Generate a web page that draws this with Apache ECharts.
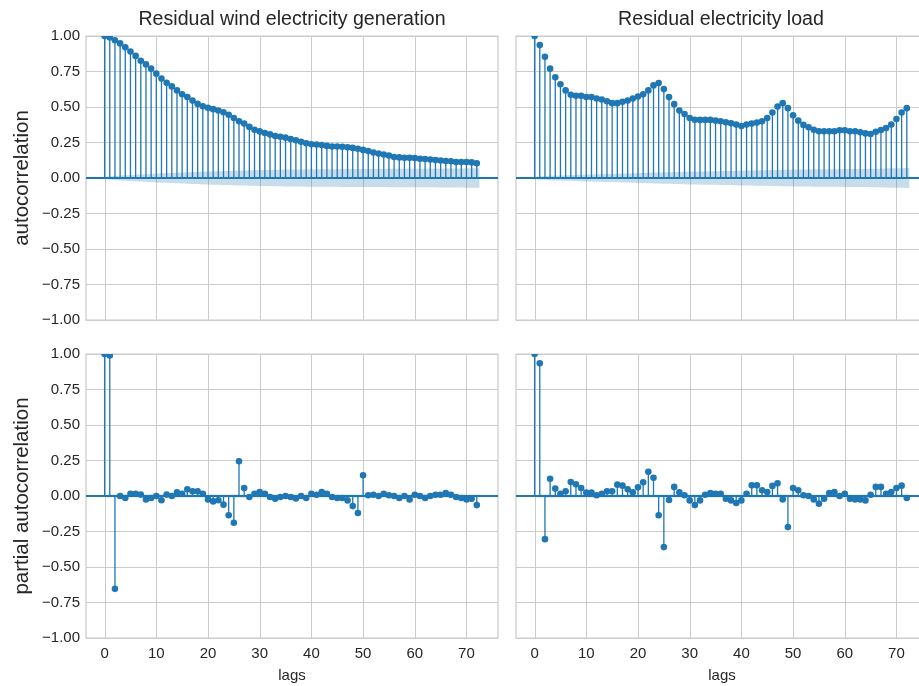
<!DOCTYPE html>
<html><head><meta charset="utf-8">
<script src="https://cdn.jsdelivr.net/npm/echarts@6/dist/echarts.min.js"></script>
<style>html,body{margin:0;padding:0;background:#fff}#c{width:919px;height:686px}</style>
</head><body><div id="c"></div>
<script>
const titles = ['Residual wind electricity generation', 'Residual electricity load'];
const yLabels = ['autocorrelation', 'partial autocorrelation'];
const xLabel = 'lags';
const xTicks = [0, 10, 20, 30, 40, 50, 60, 70];
const lags = Array.from({length: 73}, (_, i) => i);

const acfWind = [1.0, 0.99, 0.97, 0.948, 0.92, 0.89, 0.86, 0.825, 0.80, 0.77,
  0.735, 0.70, 0.67, 0.645, 0.617, 0.59, 0.57, 0.545, 0.522, 0.505,
  0.494, 0.485, 0.475, 0.463, 0.445, 0.423, 0.40, 0.383, 0.36, 0.34,
  0.328, 0.317, 0.307, 0.296, 0.29, 0.284, 0.275, 0.265, 0.255, 0.245,
  0.238, 0.236, 0.232, 0.226, 0.222, 0.222, 0.220, 0.216, 0.212, 0.206,
  0.198, 0.19, 0.18, 0.172, 0.165, 0.158, 0.148, 0.145, 0.142, 0.142,
  0.141, 0.136, 0.134, 0.13, 0.126, 0.123, 0.12, 0.118, 0.112, 0.112,
  0.113, 0.11, 0.104];

const acfLoad = [1.0, 0.936, 0.853, 0.77, 0.71, 0.66, 0.617, 0.586, 0.579, 0.579,
  0.57, 0.57, 0.56, 0.553, 0.54, 0.527, 0.527, 0.537, 0.546, 0.56,
  0.574, 0.589, 0.617, 0.652, 0.669, 0.626, 0.57, 0.52, 0.475, 0.45,
  0.423, 0.41, 0.409, 0.409, 0.409, 0.404, 0.40, 0.392, 0.385, 0.376,
  0.366, 0.376, 0.383, 0.39, 0.40, 0.423, 0.461, 0.504, 0.527, 0.492,
  0.442, 0.404, 0.374, 0.357, 0.34, 0.329, 0.329, 0.329, 0.329, 0.336,
  0.336, 0.329, 0.329, 0.322, 0.314, 0.31, 0.326, 0.338, 0.352, 0.376,
  0.416, 0.461, 0.492];

const pacfWind = [1.0, 0.99, -0.654, 0.0, -0.014, 0.016, 0.016, 0.01, -0.024, -0.014,
  0.0, -0.03, 0.01, 0.0, 0.026, 0.016, 0.047, 0.033, 0.033, 0.016,
  -0.024, -0.038, -0.03, -0.061, -0.136, -0.188, 0.245, 0.056, -0.007, 0.016,
  0.028, 0.016, -0.007, -0.019, -0.007, 0.0, -0.007, -0.017, 0.0, -0.014,
  0.016, 0.009, 0.028, 0.016, -0.007, -0.014, -0.014, -0.031, -0.071, -0.12,
  0.146, 0.005, 0.009, 0.0, 0.016, 0.005, 0.0, -0.014, 0.0, -0.024,
  0.009, 0.0, -0.014, 0.0, 0.009, 0.009, 0.021, 0.009, -0.007, -0.014,
  -0.024, -0.019, -0.064];

const pacfLoad = [1.0, 0.934, -0.304, 0.122, 0.052, 0.016, 0.033, 0.099, 0.082, 0.056,
  0.024, 0.024, 0.005, 0.016, 0.033, 0.033, 0.08, 0.073, 0.047, 0.026,
  0.061, 0.096, 0.17, 0.129, -0.136, -0.36, -0.028, 0.064, 0.026, 0.005,
  -0.031, -0.064, -0.031, 0.009, 0.021, 0.016, 0.016, -0.019, -0.031, -0.049,
  -0.031, 0.016, 0.075, 0.075, 0.04, 0.028, 0.071, 0.089, -0.024, -0.219,
  0.056, 0.04, 0.005, 0.0, -0.024, -0.054, -0.019, 0.021, 0.028, 0.0,
  0.016, -0.019, -0.024, -0.024, -0.031, 0.009, 0.064, 0.064, 0.016, 0.028,
  0.056, 0.073, -0.014];

// confidence half-widths for lags 1..72 (lag 0 skipped)
const confAcfWind = [0.010, 0.014, 0.017, 0.019, 0.021, 0.023, 0.025, 0.027, 0.029, 0.031,
  0.033, 0.034, 0.036, 0.037, 0.039, 0.040, 0.042, 0.043, 0.045, 0.046,
  0.047, 0.048, 0.049, 0.050, 0.051, 0.052, 0.053, 0.054, 0.055, 0.056,
  0.057, 0.057, 0.058, 0.058, 0.059, 0.059, 0.060, 0.060, 0.061, 0.061,
  0.061, 0.062, 0.062, 0.062, 0.062, 0.063, 0.063, 0.063, 0.063, 0.063,
  0.064, 0.064, 0.064, 0.064, 0.065, 0.065, 0.065, 0.065, 0.065, 0.066,
  0.066, 0.066, 0.066, 0.066, 0.067, 0.067, 0.067, 0.067, 0.067, 0.068,
  0.068, 0.068];
const confAcfLoad = [0.010, 0.013, 0.015, 0.017, 0.018, 0.019, 0.020, 0.021, 0.023, 0.024,
  0.025, 0.026, 0.027, 0.028, 0.029, 0.030, 0.031, 0.032, 0.034, 0.035,
  0.036, 0.037, 0.038, 0.039, 0.040, 0.041, 0.042, 0.043, 0.044, 0.045,
  0.046, 0.046, 0.047, 0.048, 0.048, 0.049, 0.050, 0.050, 0.051, 0.052,
  0.052, 0.053, 0.054, 0.054, 0.055, 0.056, 0.057, 0.058, 0.058, 0.059,
  0.059, 0.060, 0.060, 0.061, 0.061, 0.061, 0.062, 0.062, 0.062, 0.063,
  0.063, 0.063, 0.064, 0.064, 0.065, 0.065, 0.066, 0.067, 0.068, 0.069,
  0.069, 0.070];
const confPacf = 0.010;

const C = '#1f77b4';
const TXT = '#262626';
const GRIDC = '#cccccc';
const FONT = '"Liberation Sans", Arial, "DejaVu Sans", sans-serif';
const X_MIN = -3.6, X_MAX = 76.1;

const panels = [
  {rect: {left: 86, top: 36, width: 412, height: 284}, vals: acfWind, conf: confAcfWind, showY: true, showX: false},
  {rect: {left: 516, top: 36, width: 412, height: 284}, vals: acfLoad, conf: confAcfLoad, showY: false, showX: false},
  {rect: {left: 86, top: 354, width: 412, height: 284}, vals: pacfWind, conf: lags.slice(1).map(() => confPacf), showY: true, showX: true},
  {rect: {left: 516, top: 354, width: 412, height: 284}, vals: pacfLoad, conf: lags.slice(1).map(() => confPacf), showY: false, showX: true}
];

const grids = [], xAxes = [], yAxes = [], series = [];
panels.forEach((p, i) => {
  grids.push(Object.assign({show: true, borderColor: GRIDC, borderWidth: 1.25, backgroundColor: '#fff',
    containLabel: false, outerBoundsMode: 'none'}, p.rect));
  xAxes.push({
    type: 'value', gridIndex: i, min: X_MIN, max: X_MAX,
    axisLine: {show: false}, axisTick: {show: false}, splitLine: {show: false},
    axisLabel: {show: p.showX, customValues: xTicks, margin: 8, color: TXT, fontSize: 15, fontFamily: FONT,
      formatter: v => String(Math.round(v))},
    name: p.showX ? xLabel : '', nameLocation: 'middle', nameGap: 30,
    nameTextStyle: {color: TXT, fontSize: 15, fontFamily: FONT}
  });
  yAxes.push({
    type: 'value', gridIndex: i, min: -1, max: 1, interval: 0.25,
    axisLine: {show: false}, axisTick: {show: false},
    splitLine: {show: true, lineStyle: {color: GRIDC, width: 1}},
    axisLabel: {show: p.showY, margin: 6, color: TXT, fontSize: 15, fontFamily: FONT,
      formatter: v => (v < 0 ? '\u2212' : '') + Math.abs(v).toFixed(2)}
  });
  // vertical grid lines
  series.push({
    type: 'custom', xAxisIndex: i, yAxisIndex: i, z: 0, silent: true,
    data: [[0, 0]],
    renderItem: (params, api) => {
      const children = xTicks.map(t => {
        const a = api.coord([t, 1]), b = api.coord([t, -1]);
        const x = Math.round(a[0]) + 0.5;
        return {type: 'line', shape: {x1: x, y1: a[1], x2: x, y2: b[1]}, style: {stroke: GRIDC, lineWidth: 1}};
      });
      return {type: 'group', children};
    }
  });
  // confidence band
  const conf = p.conf;
  series.push({
    type: 'custom', xAxisIndex: i, yAxisIndex: i, z: 1, silent: true,
    data: [[0, 0]],
    renderItem: (params, api) => {
      const up = [], lo = [];
      for (let k = 0; k < conf.length; k++) {
        let bx = lags[k + 1];
        if (k === 0) bx -= 0.5;
        if (k === conf.length - 1) bx += 0.5;
        up.push(api.coord([bx, conf[k]]));
        lo.push(api.coord([bx, -conf[k]]));
      }
      return {type: 'polygon', shape: {points: up.concat(lo.reverse())}, style: {fill: 'rgba(31,119,180,0.25)'}};
    }
  });
  // stems
  series.push({
    type: 'custom', xAxisIndex: i, yAxisIndex: i, z: 2, silent: true,
    data: lags.map((l, k) => [l, p.vals[k]]),
    encode: {x: 0, y: 1},
    renderItem: (params, api) => {
      const a = api.coord([api.value(0), 0]), b = api.coord([api.value(0), api.value(1)]);
      return {type: 'line', shape: {x1: a[0], y1: a[1], x2: b[0], y2: b[1]}, style: {stroke: C, lineWidth: 1.3}};
    }
  });
  // zero line
  series.push({
    type: 'custom', xAxisIndex: i, yAxisIndex: i, z: 3, silent: true,
    data: [[0, 0]],
    renderItem: (params, api) => {
      const a = api.coord([X_MIN, 0]), b = api.coord([X_MAX, 0]);
      return {type: 'line', shape: {x1: a[0], y1: a[1], x2: b[0], y2: b[1]}, style: {stroke: C, lineWidth: 2}};
    }
  });
  // markers (clipped to the plot area)
  series.push({
    type: 'custom', xAxisIndex: i, yAxisIndex: i, z: 4, silent: true, clip: true,
    data: lags.map((l, k) => [l, p.vals[k]]),
    encode: {x: 0, y: 1},
    renderItem: (params, api) => {
      const c = api.coord([api.value(0), api.value(1)]);
      return {type: 'circle', shape: {cx: c[0], cy: c[1], r: 3.3}, style: {fill: C}};
    }
  });
});

const graphic = [
  {type: 'text', x: 292, y: 20, style: {text: titles[0], fill: TXT, font: '19.6px ' + FONT, textAlign: 'center', textVerticalAlign: 'middle'}},
  {type: 'text', x: 721, y: 20, style: {text: titles[1], fill: TXT, font: '19.6px ' + FONT, textAlign: 'center', textVerticalAlign: 'middle'}},
  {type: 'text', x: 22, y: 178, rotation: Math.PI / 2, style: {text: yLabels[0], fill: TXT, font: '20.5px ' + FONT, textAlign: 'center', textVerticalAlign: 'middle'}},
  {type: 'text', x: 22, y: 496, rotation: Math.PI / 2, style: {text: yLabels[1], fill: TXT, font: '20.5px ' + FONT, textAlign: 'center', textVerticalAlign: 'middle'}}
];

const chart = echarts.init(document.getElementById('c'), null, {renderer: 'canvas'});
chart.setOption({
  backgroundColor: '#ffffff',
  animation: false,
  grid: grids, xAxis: xAxes, yAxis: yAxes, series, graphic
});
</script></body></html>
